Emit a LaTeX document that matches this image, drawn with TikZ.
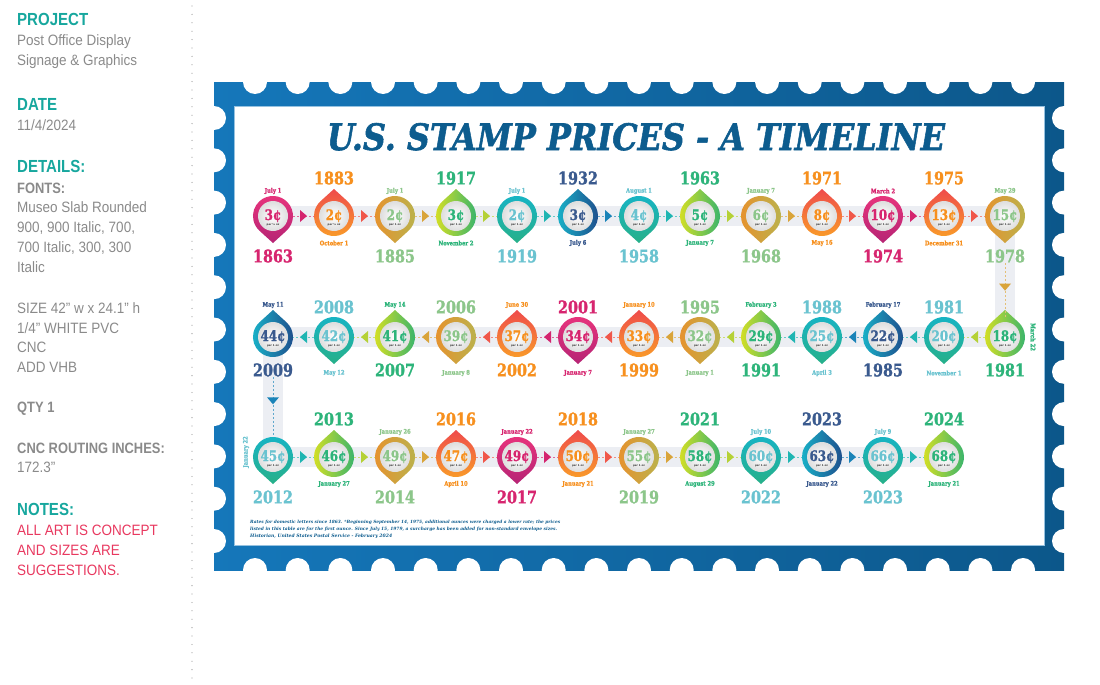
\documentclass[tikz,border=0pt]{standalone}
\usepackage{fontspec}
\usetikzlibrary{calc}
\setmainfont{Liberation Sans}
\newfontfamily\condf[FakeStretch=0.86]{Liberation Sans}
\newfontfamily\condr[FakeStretch=0.9]{Liberation Sans}
\newfontfamily\slabf[FakeStretch=0.82, FakeBold=1.2]{DejaVu Serif}
\newfontfamily\slabw[FakeBold=1.6]{DejaVu Serif}
\newfontfamily\slabn{DejaVu Serif}
\newfontfamily\tinyf{DejaVu Sans}
\pgfdeclarelayer{bgzero}
\pgfdeclarelayer{bgone}
\pgfsetlayers{bgzero,bgone,main}
\definecolor{ttl}{HTML}{0D5C8E}
\definecolor{lteal}{HTML}{17A79E}
\definecolor{lgray}{HTML}{8A8A8A}
\definecolor{lpink}{HTML}{E8385F}
\definecolor{band}{HTML}{ECEEF3}
\definecolor{fL}{HTML}{1577BA}
\definecolor{fR}{HTML}{0C578A}
\definecolor{tmag}{HTML}{D7256F}
\definecolor{tora}{HTML}{F7901E}
\definecolor{tgld}{HTML}{8CC68A}
\definecolor{tgrn}{HTML}{2DB47A}
\definecolor{ttea}{HTML}{6AC3D0}
\definecolor{tdbl}{HTML}{3A5A8E}
\definecolor{rmagA}{HTML}{E8347C}
\definecolor{rmagB}{HTML}{B62475}
\definecolor{roraA}{HTML}{EF4B4C}
\definecolor{roraB}{HTML}{F99D28}
\definecolor{rgldA}{HTML}{B9B34E}
\definecolor{rgldB}{HTML}{E6922E}
\definecolor{rgrnA}{HTML}{D6DF24}
\definecolor{rgrnB}{HTML}{33B36F}
\definecolor{rteaA}{HTML}{17B4C6}
\definecolor{rteaB}{HTML}{27B089}
\definecolor{rdblA}{HTML}{19B2C8}
\definecolor{rdblB}{HTML}{1E4B8B}
\definecolor{amag}{HTML}{D4246F}
\definecolor{aora}{HTML}{F0574A}
\definecolor{agld}{HTML}{D9A43A}
\definecolor{agrn}{HTML}{B5D136}
\definecolor{atea}{HTML}{1FB5B2}
\definecolor{adbl}{HTML}{1A83B8}
\tikzset{
  ring-mag/.style={top color=rmagA, bottom color=rmagB},
  ring-ora/.style={top color=roraA, bottom color=roraB},
  ring-gld/.style={left color=rgldB, right color=rgldA},
  ring-grn/.style={left color=rgrnA, right color=rgrnB},
  ring-tea/.style={top color=rteaA, bottom color=rteaB},
  ring-dbl/.style={left color=rdblA, right color=rdblB},
  stampnode/.style={circle, minimum size=40pt, inner sep=0pt},
  pr/.style={font=\slabf\bfseries\fontsize{14.5}{14.5}\selectfont, inner sep=0pt, anchor=base},
  ozs/.style={font=\tinyf\bfseries\fontsize{2.6}{2.6}\selectfont, inner sep=0pt, anchor=base, text=black!80},
  yr/.style={font=\slabf\bfseries\fontsize{17.5}{17.5}\selectfont, inner sep=0pt},
  dt/.style={font=\slabf\bfseries\fontsize{6.3}{6.3}\selectfont, inner sep=0pt},
  cline/.style={line width=0.6pt, dash pattern=on 2pt off 2pt},
  bandline/.style={line width=20pt, draw=band, line join=miter},
  lp/.style={anchor=base west, inner sep=0pt, text=lgray, font=\condr\fontsize{15}{15}\selectfont},
  lpb/.style={lp, font=\condf\bfseries\fontsize{15}{15}\selectfont},
  lh/.style={lp, text=lteal, font=\condf\bfseries\fontsize{17.5}{17.5}\selectfont},
  ln/.style={lp, text=lpink},
  fnote/.style={anchor=base west, inner sep=0pt, text=ttl},
}
% name, x, y, price, dir (1 down / -1 up), class, oz text
\newcommand\mystamp[7]{%
  \shade[ring-#6] (#2,#3) ++(0,{27*(#5)}) -- ++(13.4,{-12.2*(#5)})
     arc[start angle={47.8*(#5)}, end angle={-227.8*(#5)}, radius=20] -- cycle;
  \shade[inner color=white, outer color=black!13] (#2,#3) circle (15);
  \node[stampnode] (#1) at (#2,#3) {};
  \node[pr, text=t#6] (#1-p) at (#2,{#3+4}) {#4};
  \node[ozs] (#1-o) at (#2,{#3+9.5}) {#7};
}
% stamp, dy, kind, class, text
\newcommand\mylab[5]{\node[#3, text=t#4] (#1-#3) at ($(#1.center)+(0,#2)$) {#5};}
\newcommand\mytrir[2]{\fill[#2] ([shift={(-3.5,-6)}]#1) -- ++(7,6) -- ++(-7,6) -- cycle;}
\newcommand\mytril[2]{\fill[#2] ([shift={(3.5,-6)}]#1) -- ++(-7,6) -- ++(7,6) -- cycle;}
\newcommand\mytrid[2]{\fill[#2] ([shift={(-6,-3.5)}]#1) -- ++(12,0) -- ++(-6,7) -- cycle;}
\newcommand\myconn[4]{%
  \draw[cline, draw=#3!70] (#1) -- coordinate[pos=0.5] (#1-#2-m) (#2);
  \csname mytri#4\endcsname{#1-#2-m}{#3}%
}
\begin{document}
\begin{tikzpicture}[x=1pt, y=-1pt]
\useasboundingbox (0,0) rectangle (1100,685);
% ---------- left panel ----------
\node[lh] (l1) at (17,26) {PROJECT};
\node[lp] (l2) at (17,46) {Post Office Display};
\node[lp] (l3) at (17,65.5) {Signage \& Graphics};
\node[lh] (l4) at (17,110) {DATE};
\node[lp] (l5) at (17,130) {11/4/2024};
\node[lh] (l6) at (17,172.5) {DETAILS:};
\node[lpb] (l7) at (17,193) {FONTS:};
\node[lp] (l8) at (17,212.7) {Museo Slab Rounded};
\node[lp] (l9) at (17,232.5) {900, 900 Italic, 700,};
\node[lp] (l10) at (17,252.5) {700 Italic, 300, 300};
\node[lp] (l11) at (17,272.5) {Italic};
\node[lp] (l12) at (17,313) {SIZE 42” w x 24.1” h};
\node[lp] (l13) at (17,333) {1/4” WHITE PVC};
\node[lp] (l14) at (17,352.7) {CNC};
\node[lp] (l15) at (17,372.7) {ADD VHB};
\node[lpb] (l16) at (17,412.7) {QTY 1};
\node[lpb] (l17) at (17,453.3) {CNC ROUTING INCHES:};
\node[lp] (l18) at (17,472.7) {172.3”};
\node[lh] (l19) at (17,515.7) {NOTES:};
\node[ln] (l20) at (17,535.7) {ALL ART IS CONCEPT};
\node[ln] (l21) at (17,555.7) {AND SIZES ARE};
\node[ln] (l22) at (17,575.7) {SUGGESTIONS.};
\coordinate (dtop) at (192,6);
\coordinate (dbot) at (192,685);
\draw[black!35, line width=1.3pt, line cap=round, dash pattern=on 0pt off 8.4pt] (dtop) -- (dbot);
% ---------- stamp frame ----------
\begin{pgfonlayer}{bgzero}
\shade[left color=fL, right color=fR] (214,82) rectangle (1064,570);
\fill[white] (234,106) rectangle (1044,545);
\draw[fL!45, line width=0.8pt] (234,106) rectangle (1044,545);
\foreach \i in {0,...,18} {
  \fill[white] ({255+42.67*\i},82) circle (12);
  \fill[white] ({255+42.67*\i},570) circle (12);
}
\foreach \j in {0,...,10} {
  \fill[white] (214,{118+42.3*\j}) circle (12);
  \fill[white] (1064,{118+42.3*\j}) circle (12);
}
\end{pgfonlayer}
\node[anchor=base, inner sep=0pt, text=ttl] (title) at (636,150)
  {\resizebox{618pt}{27pt}{\slabw\bfseries\itshape U.S. STAMP PRICES - A TIMELINE}};
% ---------- row 1 ----------
\mystamp{s1}{273}{216}{3¢}{1}{mag}{per ½ oz}
\mystamp{s2}{334}{216}{2¢}{-1}{ora}{per ½ oz}
\mystamp{s3}{395}{216}{2¢}{1}{gld}{per 1 oz}
\mystamp{s4}{456}{216}{3¢}{-1}{grn}{per 1 oz}
\mystamp{s5}{517}{216}{2¢}{1}{tea}{per 1 oz}
\mystamp{s6}{578}{216}{3¢}{-1}{dbl}{per 1 oz}
\mystamp{s7}{639}{216}{4¢}{1}{tea}{per 1 oz}
\mystamp{s8}{700}{216}{5¢}{-1}{grn}{per 1 oz}
\mystamp{s9}{761}{216}{6¢}{1}{gld}{per 1 oz}
\mystamp{s10}{822}{216}{8¢}{-1}{ora}{per 1 oz}
\mystamp{s11}{883}{216}{10¢}{1}{mag}{per 1 oz}
\mystamp{s12}{944}{216}{13¢}{-1}{ora}{per 1 oz}
\mystamp{s13}{1005}{216}{15¢}{1}{gld}{per 1 oz}
% ---------- row 2 ----------
\mystamp{s14}{1005}{337}{18¢}{-1}{grn}{per 1 oz}
\mystamp{s15}{944}{337}{20¢}{1}{tea}{per 1 oz}
\mystamp{s16}{883}{337}{22¢}{-1}{dbl}{per 1 oz}
\mystamp{s17}{822}{337}{25¢}{1}{tea}{per 1 oz}
\mystamp{s18}{761}{337}{29¢}{-1}{grn}{per 1 oz}
\mystamp{s19}{700}{337}{32¢}{1}{gld}{per 1 oz}
\mystamp{s20}{639}{337}{33¢}{-1}{ora}{per 1 oz}
\mystamp{s21}{578}{337}{34¢}{1}{mag}{per 1 oz}
\mystamp{s22}{517}{337}{37¢}{-1}{ora}{per 1 oz}
\mystamp{s23}{456}{337}{39¢}{1}{gld}{per 1 oz}
\mystamp{s24}{395}{337}{41¢}{-1}{grn}{per 1 oz}
\mystamp{s25}{334}{337}{42¢}{1}{tea}{per 1 oz}
\mystamp{s26}{273}{337}{44¢}{-1}{dbl}{per 1 oz}
% ---------- row 3 ----------
\mystamp{s27}{273}{457}{45¢}{1}{tea}{per 1 oz}
\mystamp{s28}{334}{457}{46¢}{-1}{grn}{per 1 oz}
\mystamp{s29}{395}{457}{49¢}{1}{gld}{per 1 oz}
\mystamp{s30}{456}{457}{47¢}{-1}{ora}{per 1 oz}
\mystamp{s31}{517}{457}{49¢}{1}{mag}{per 1 oz}
\mystamp{s32}{578}{457}{50¢}{-1}{ora}{per 1 oz}
\mystamp{s33}{639}{457}{55¢}{1}{gld}{per 1 oz}
\mystamp{s34}{700}{457}{58¢}{-1}{grn}{per 1 oz}
\mystamp{s35}{761}{457}{60¢}{1}{tea}{per 1 oz}
\mystamp{s36}{822}{457}{63¢}{-1}{dbl}{per 1 oz}
\mystamp{s37}{883}{457}{66¢}{1}{tea}{per 1 oz}
\mystamp{s38}{944}{457}{68¢}{-1}{grn}{per 1 oz}
% ---------- band ----------
\begin{pgfonlayer}{bgone}
\draw[bandline] (s1.center) -- (s13.center) -- (s14.center) -- (s26.center) -- (s27.center) -- (s38.center);
\end{pgfonlayer}
% ---------- labels row 1 ----------
\mylab{s1}{-25}{dt}{mag}{July 1}      \mylab{s1}{40}{yr}{mag}{1863}
\mylab{s2}{-38}{yr}{ora}{1883}        \mylab{s2}{27}{dt}{ora}{October 1}
\mylab{s3}{-25}{dt}{gld}{July 1}      \mylab{s3}{40}{yr}{gld}{1885}
\mylab{s4}{-38}{yr}{grn}{1917}        \mylab{s4}{27}{dt}{grn}{November 2}
\mylab{s5}{-25}{dt}{tea}{July 1}      \mylab{s5}{40}{yr}{tea}{1919}
\mylab{s6}{-38}{yr}{dbl}{1932}        \mylab{s6}{27}{dt}{dbl}{July 6}
\mylab{s7}{-25}{dt}{tea}{August 1}    \mylab{s7}{40}{yr}{tea}{1958}
\mylab{s8}{-38}{yr}{grn}{1963}        \mylab{s8}{27}{dt}{grn}{January 7}
\mylab{s9}{-25}{dt}{gld}{January 7}   \mylab{s9}{40}{yr}{gld}{1968}
\mylab{s10}{-38}{yr}{ora}{1971}       \mylab{s10}{27}{dt}{ora}{May 16}
\mylab{s11}{-25}{dt}{mag}{March 2}    \mylab{s11}{40}{yr}{mag}{1974}
\mylab{s12}{-38}{yr}{ora}{1975}       \mylab{s12}{27}{dt}{ora}{December 31}
\mylab{s13}{-25}{dt}{gld}{May 29}     \mylab{s13}{40}{yr}{gld}{1978}
% ---------- labels row 2 ----------
\node[dt, text=tgrn, rotate=-90] (s14-dt) at (1033,337) {March 22};
\mylab{s14}{33}{yr}{grn}{1981}
\mylab{s15}{-30}{yr}{tea}{1981}       \mylab{s15}{36}{dt}{tea}{November 1}
\mylab{s16}{-32}{dt}{dbl}{February 17}\mylab{s16}{33}{yr}{dbl}{1985}
\mylab{s17}{-30}{yr}{tea}{1988}       \mylab{s17}{36}{dt}{tea}{April 3}
\mylab{s18}{-32}{dt}{grn}{February 3} \mylab{s18}{33}{yr}{grn}{1991}
\mylab{s19}{-30}{yr}{gld}{1995}       \mylab{s19}{36}{dt}{gld}{January 1}
\mylab{s20}{-32}{dt}{ora}{January 10} \mylab{s20}{33}{yr}{ora}{1999}
\mylab{s21}{-30}{yr}{mag}{2001}       \mylab{s21}{36}{dt}{mag}{January 7}
\mylab{s22}{-32}{dt}{ora}{June 30}    \mylab{s22}{33}{yr}{ora}{2002}
\mylab{s23}{-30}{yr}{gld}{2006}       \mylab{s23}{36}{dt}{gld}{January 8}
\mylab{s24}{-32}{dt}{grn}{May 14}     \mylab{s24}{33}{yr}{grn}{2007}
\mylab{s25}{-30}{yr}{tea}{2008}       \mylab{s25}{36}{dt}{tea}{May 12}
\mylab{s26}{-32}{dt}{dbl}{May 11}     \mylab{s26}{33}{yr}{dbl}{2009}
% ---------- labels row 3 ----------
\node[dt, text=ttea, rotate=90] (s27-dt) at (246,452) {January 22};
\mylab{s27}{40}{yr}{tea}{2012}
\mylab{s28}{-38}{yr}{grn}{2013}       \mylab{s28}{27}{dt}{grn}{January 27}
\mylab{s29}{-25}{dt}{gld}{January 26} \mylab{s29}{40}{yr}{gld}{2014}
\mylab{s30}{-38}{yr}{ora}{2016}       \mylab{s30}{27}{dt}{ora}{April 10}
\mylab{s31}{-25}{dt}{mag}{January 22} \mylab{s31}{40}{yr}{mag}{2017}
\mylab{s32}{-38}{yr}{ora}{2018}       \mylab{s32}{27}{dt}{ora}{January 21}
\mylab{s33}{-25}{dt}{gld}{January 27} \mylab{s33}{40}{yr}{gld}{2019}
\mylab{s34}{-38}{yr}{grn}{2021}       \mylab{s34}{27}{dt}{grn}{August 29}
\mylab{s35}{-25}{dt}{tea}{July 10}    \mylab{s35}{40}{yr}{tea}{2022}
\mylab{s36}{-38}{yr}{dbl}{2023}       \mylab{s36}{27}{dt}{dbl}{January 22}
\mylab{s37}{-25}{dt}{tea}{July 9}     \mylab{s37}{40}{yr}{tea}{2023}
\mylab{s38}{-38}{yr}{grn}{2024}       \mylab{s38}{27}{dt}{grn}{January 21}
% ---------- connectors ----------
\myconn{s1}{s2}{amag}{r}
\myconn{s2}{s3}{aora}{r}
\myconn{s3}{s4}{agld}{r}
\myconn{s4}{s5}{agrn}{r}
\myconn{s5}{s6}{atea}{r}
\myconn{s6}{s7}{adbl}{r}
\myconn{s7}{s8}{atea}{r}
\myconn{s8}{s9}{agrn}{r}
\myconn{s9}{s10}{agld}{r}
\myconn{s10}{s11}{aora}{r}
\myconn{s11}{s12}{amag}{r}
\myconn{s12}{s13}{aora}{r}
\draw[cline, draw=agld!70] (s13-yr) -- coordinate[pos=0.45] (s13-s14-m) (s14);
\mytrid{s13-s14-m}{agld}
\myconn{s14}{s15}{agrn}{l}
\myconn{s15}{s16}{atea}{l}
\myconn{s16}{s17}{adbl}{l}
\myconn{s17}{s18}{atea}{l}
\myconn{s18}{s19}{agrn}{l}
\myconn{s19}{s20}{agld}{l}
\myconn{s20}{s21}{aora}{l}
\myconn{s21}{s22}{amag}{l}
\myconn{s22}{s23}{aora}{l}
\myconn{s23}{s24}{agld}{l}
\myconn{s24}{s25}{agrn}{l}
\myconn{s25}{s26}{atea}{l}
\draw[cline, draw=adbl!70] (s26-yr) -- coordinate[pos=0.4] (s26-s27-m) (s27);
\mytrid{s26-s27-m}{adbl}
\myconn{s27}{s28}{atea}{r}
\myconn{s28}{s29}{agrn}{r}
\myconn{s29}{s30}{agld}{r}
\myconn{s30}{s31}{aora}{r}
\myconn{s31}{s32}{amag}{r}
\myconn{s32}{s33}{aora}{r}
\myconn{s33}{s34}{agld}{r}
\myconn{s34}{s35}{agrn}{r}
\myconn{s35}{s36}{atea}{r}
\myconn{s36}{s37}{adbl}{r}
\myconn{s37}{s38}{atea}{r}
% ---------- footnote ----------
\node[fnote] (fn1) at (250,523) {\resizebox{310pt}{!}{\slabn\bfseries\itshape\fontsize{6}{6}\selectfont Rates for domestic letters since 1863. *Beginning September 14, 1975, additional ounces were charged a lower rate; the prices}};
\node[fnote] (fn2) at (250,530.5) {\resizebox{307pt}{!}{\slabn\bfseries\itshape\fontsize{6}{6}\selectfont listed in this table are for the first ounce. Since July 15, 1979, a surcharge has been added for non-standard envelope sizes.}};
\node[fnote] (fn3) at (250,537.5) {\resizebox{142pt}{!}{\slabn\bfseries\itshape\fontsize{6}{6}\selectfont Historian, United States Postal Service - February 2024}};
\end{tikzpicture}
\end{document}
